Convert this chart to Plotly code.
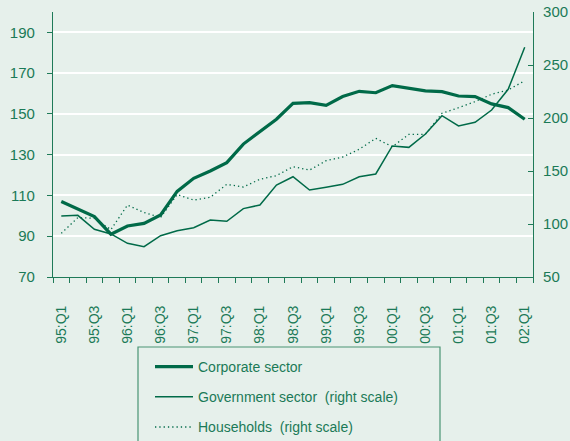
import plotly.graph_objects as go

quarters = ["95:Q1", "95:Q2", "95:Q3", "95:Q4", "96:Q1", "96:Q2", "96:Q3", "96:Q4",
            "97:Q1", "97:Q2", "97:Q3", "97:Q4", "98:Q1", "98:Q2", "98:Q3", "98:Q4",
            "99:Q1", "99:Q2", "99:Q3", "99:Q4", "00:Q1", "00:Q2", "00:Q3", "00:Q4",
            "01:Q1", "01:Q2", "01:Q3", "01:Q4", "02:Q1"]

corporate = [107.0, 103.5, 99.6, 91.0, 95.0, 96.3, 100.4, 112.0, 118.4, 122.0,
             126.1, 135.2, 141.3, 147.4, 155.2, 155.5, 154.2, 158.5, 161.1, 160.4,
             163.9, 162.7, 161.3, 160.9, 158.8, 158.5, 154.9, 153.1, 147.4]

government = [107.5, 108.2, 95.0, 90.6, 81.8, 78.6, 89.0, 93.7, 96.5, 103.8,
              102.5, 114.5, 117.9, 136.8, 144.6, 132.1, 134.6, 137.4, 144.6, 147.2,
              173.6, 172.3, 184.9, 202.2, 192.5, 195.9, 207.5, 227.1, 266.7]

households = [91.2, 106.0, 105.4, 94.7, 117.9, 110.8, 106.2, 127.8, 122.6, 125.2,
              137.4, 134.9, 142.2, 145.6, 154.1, 150.9, 159.7, 163.2, 170.5, 180.8,
              172.9, 184.6, 184.6, 204.4, 209.7, 215.4, 222.4, 226.4, 235.2]

left_ticks = [70, 90, 110, 130, 150, 170, 190]
right_ticks = [50, 100, 150, 200, 250, 300]

names = ["Corporate sector", "Government sector \u00a0(right scale)", "Households \u00a0(right scale)"]

BG = "#e6f0eb"
LINE = "#006a48"
TEXT = "#1b7a57"
AXIS = "#1f7a58"

idx = list(range(len(quarters)))
label_pos = idx[::2]
label_txt = quarters[::2]

fig = go.Figure()
fig.add_trace(go.Scatter(x=idx, y=corporate, mode="lines", name=names[0], text=quarters,
                         legendgroup="a",
                         line=dict(color=LINE, width=3.2), yaxis="y"))
fig.add_trace(go.Scatter(x=idx, y=government, mode="lines", name=names[1], text=quarters,
                         legendgroup="b",
                         line=dict(color=LINE, width=1.5), yaxis="y2"))
fig.add_trace(go.Scatter(x=idx, y=households, mode="lines", name=names[2], text=quarters,
                         legendgroup="c",
                         line=dict(color=LINE, width=1.3, dash="1.3px,3px"), yaxis="y2"))

font_family = "Liberation Sans, Arial, sans-serif"
FS = 14

fig.update_layout(
    width=570, height=441,
    margin=dict(l=53, r=37, t=12, b=164, autoexpand=False),
    paper_bgcolor=BG, plot_bgcolor=BG,
    font=dict(family=font_family, size=FS, color=TEXT),
    showlegend=True,
    legend=dict(x=(150 - 53) / 480, y=(277 - 351) / 265, xanchor="left", yanchor="top",
                bgcolor="rgba(0,0,0,0)", borderwidth=0, traceorder="grouped",
                font=dict(family=font_family, size=FS, color=TEXT),
                itemwidth=38, tracegroupgap=9),
    xaxis=dict(range=[-0.5, len(quarters) - 0.5], tickmode="array",
               tickvals=label_pos, ticktext=label_txt, tickangle=-90,
               ticks="outside", ticklen=5, tickcolor="rgba(0,0,0,0)",
               ticklabelstandoff=17, automargin=False,
               showgrid=False, zeroline=False,
               showline=True, linecolor=AXIS, linewidth=1.2,
               minor=dict(tickmode="linear", tick0=-0.5, dtick=1, ticks="outside",
                          ticklen=5, tickcolor=AXIS, tickwidth=1, showgrid=False),
               tickfont=dict(size=FS, color=TEXT)),
    yaxis=dict(range=[70, 200], tickmode="array", tickvals=left_ticks,
               ticks="outside", ticklen=5, tickcolor=AXIS, tickwidth=1,
               showgrid=True, gridcolor="white", gridwidth=1.5, automargin=False,
               zeroline=False, showline=True, linecolor=AXIS, linewidth=1.2,
               ticklabelstandoff=9, tickfont=dict(size=FS + 1, color=TEXT)),
    yaxis2=dict(range=[50, 300], tickmode="array", tickvals=right_ticks,
                overlaying="y", side="right", anchor="x", automargin=False,
                ticks="inside", ticklen=5, tickcolor=AXIS, tickwidth=1,
                showgrid=False, zeroline=False, showline=True,
                linecolor=AXIS, linewidth=1.2, ticklabelstandoff=6,
                tickfont=dict(size=FS + 1, color=TEXT)),
    shapes=[dict(type="rect", xref="paper", yref="paper",
                 x0=(138 - 53) / 480, x1=(440 - 53) / 480,
                 y0=-0.75, y1=(277 - 347) / 265,
                 line=dict(color="#4a9474", width=1.2), fillcolor="rgba(0,0,0,0)",
                 layer="above")],
)

fig.write_html("out.html", config={"displayModeBar": False},
               post_script="document.body.style.margin='0px';")
